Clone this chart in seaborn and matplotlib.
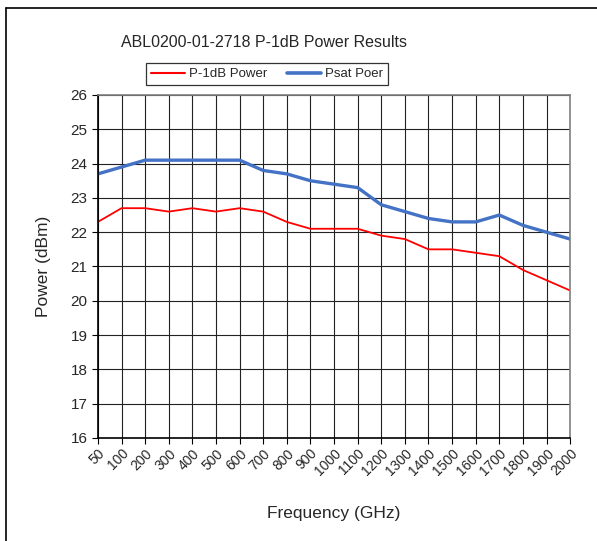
import pandas as pd
import matplotlib.pyplot as plt
import seaborn as sns
from matplotlib.lines import Line2D

# data
freqs = ["50", "100", "200", "300", "400", "500", "600", "700", "800", "900", "1000",
         "1100", "1200", "1300", "1400", "1500", "1600", "1700", "1800", "1900", "2000"]
p1db = [22.3, 22.7, 22.7, 22.6, 22.7, 22.6, 22.7, 22.6, 22.3, 22.1, 22.1,
        22.1, 21.9, 21.8, 21.5, 21.5, 21.4, 21.3, 20.9, 20.6, 20.3]
psat = [23.7, 23.9, 24.1, 24.1, 24.1, 24.1, 24.1, 23.8, 23.7, 23.5, 23.4,
        23.3, 22.8, 22.6, 22.4, 22.3, 22.3, 22.5, 22.2, 22.0, 21.8]
y_ticks = list(range(16, 27))

df = pd.DataFrame({"Frequency": freqs, "P-1dB Power": p1db, "Psat Poer": psat})

sns.set_style("white")
plt.rcParams["font.family"] = ["Liberation Sans", "DejaVu Sans"]

fig = plt.figure(figsize=(5.97, 5.41), dpi=100)
ax = fig.add_axes([0.164, 0.1904, 0.791, 0.634])

sns.lineplot(data=df, x="Frequency", y="Psat Poer", color="#4472C4", linewidth=2.4, ax=ax)
sns.lineplot(data=df, x="Frequency", y="P-1dB Power", color="#FF0000", linewidth=1.3, ax=ax)

ax.set_xlim(0, len(freqs) - 1)
ax.set_ylim(16, 26)
ax.set_yticks(y_ticks)
ax.set_xticks(range(len(freqs)))
ax.set_xticklabels(freqs, rotation=45, ha="right", rotation_mode="anchor", fontsize=10)
ax.tick_params(axis="y", labelsize=11, length=4, width=0.8, color="black", direction="out", left=True)
ax.tick_params(axis="x", length=4, width=0.8, color="black", direction="out", bottom=True, pad=2)

ax.grid(True, color="#222222", linewidth=0.8)
ax.set_axisbelow(True)
for s in ax.spines.values():
    s.set_color("#808080")
    s.set_linewidth(1.2)
ax.spines["left"].set_color("black")
ax.spines["bottom"].set_color("black")

ax.set_xlabel("Frequency (GHz)", fontsize=12.5, labelpad=20)
ax.set_ylabel("Power (dBm)", fontsize=12.5, labelpad=14)

fig.text(0.442, 0.921, "ABL0200-01-2718 P-1dB Power Results", ha="center", va="center", fontsize=11.5)

handles = [Line2D([], [], color="#FF0000", linewidth=1.5),
           Line2D([], [], color="#4472C4", linewidth=2.6)]
leg = fig.legend(handles, ["P-1dB Power", "Psat Poer"], loc="center", bbox_to_anchor=(0.447, 0.863),
                 ncol=2, fontsize=9.5, frameon=True, fancybox=False, handlelength=2.6,
                 handletextpad=0.3, columnspacing=1.5, borderpad=0.35)
leg.get_frame().set_edgecolor("black")
leg.get_frame().set_linewidth(0.9)

# outer chart border (top and left edges visible in the reference)
fig.add_artist(Line2D([6 / 597, 6 / 597], [0, 1 - 8 / 541], color="black", linewidth=1.2))
fig.add_artist(Line2D([6 / 597, 1], [1 - 8 / 541, 1 - 8 / 541], color="black", linewidth=1.2))

fig.savefig("out.png", dpi=100)
